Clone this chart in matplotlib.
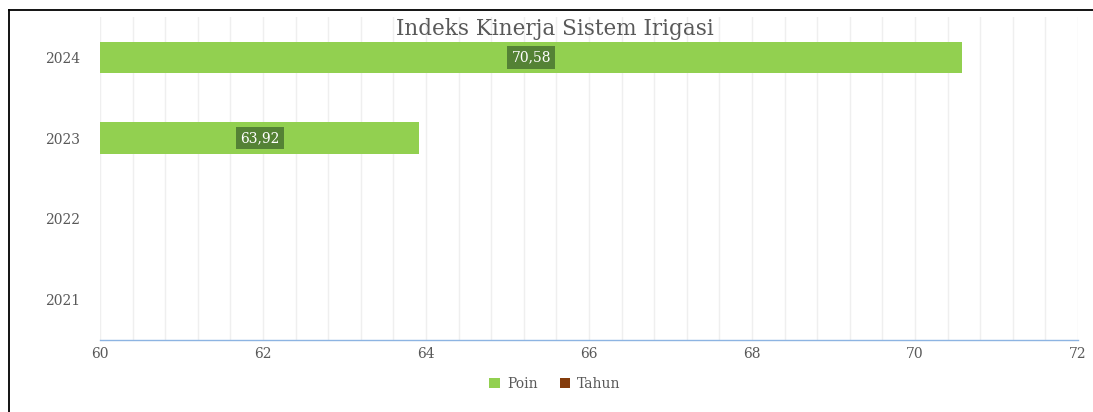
import matplotlib
matplotlib.use("Agg")
import matplotlib.pyplot as plt
import numpy as np
from matplotlib.lines import Line2D

years = ["2021", "2022", "2023", "2024"]
poin = [np.nan, np.nan, 63.92, 70.58]
tahun = [np.nan, np.nan, np.nan, np.nan]
poin_labels = ["", "", "63,92", "70,58"]

plt.rcParams["font.family"] = ["DejaVu Serif"]

fig = plt.figure(figsize=(10.93, 4.12), dpi=100)
ax = fig.add_axes([100 / 1093, 1 - 340 / 412, 978 / 1093, 323 / 412])

y = np.arange(len(years))
ax.barh(y, poin, height=0.39, left=0, color="#92d050", label="Poin", zorder=2)
ax.barh(y, tahun, height=0.39, color="#843c0c", label="Tahun", zorder=2)

for yi, v, lab in zip(y, poin, poin_labels):
    if lab:
        ax.text((60 + v) / 2, yi, lab, ha="center", va="center", color="white",
                fontsize=10, zorder=3,
                bbox=dict(boxstyle="square,pad=0.3", fc="#548235", ec="none"))

ax.set_xlim(60, 72)
ax.set_ylim(-0.5, 3.5)
ax.set_yticks(y)
ax.set_yticklabels(years)
ax.set_xticks(np.arange(60, 72.1, 2))
ax.set_xticks(np.arange(60, 72.01, 0.4), minor=True)
ax.grid(True, axis="x", which="minor", color="#efefef", lw=1, zorder=0)
ax.grid(True, axis="x", which="major", color="#efefef", lw=1, zorder=0)
ax.tick_params(axis="both", which="both", length=0, colors="#595959", labelsize=10)
ax.tick_params(axis="x", pad=5)
ax.tick_params(axis="y", pad=14)
for s in ["top", "right", "left"]:
    ax.spines[s].set_visible(False)
ax.spines["bottom"].set_color("#8db4e2")
ax.spines["bottom"].set_linewidth(1)

fig.text(555 / 1093, 1 - 29 / 412, "Indeks Kinerja Sistem Irigasi", ha="center",
         va="center", fontsize=15.5, color="#595959")

leg = fig.legend(loc="center", bbox_to_anchor=(555 / 1093, 1 - 384 / 412), ncol=2,
                 frameon=False, fontsize=10, handlelength=0.75, handleheight=0.75,
                 handletextpad=0.5, columnspacing=1.6)
for t in leg.get_texts():
    t.set_color("#595959")

fig.add_artist(Line2D([8.5 / 1093, 1], [1 - 9.5 / 412] * 2, color="black", lw=1.3))
fig.add_artist(Line2D([8.5 / 1093] * 2, [0, 1 - 9.5 / 412], color="black", lw=1.3))

fig.savefig("out.png", dpi=100)
